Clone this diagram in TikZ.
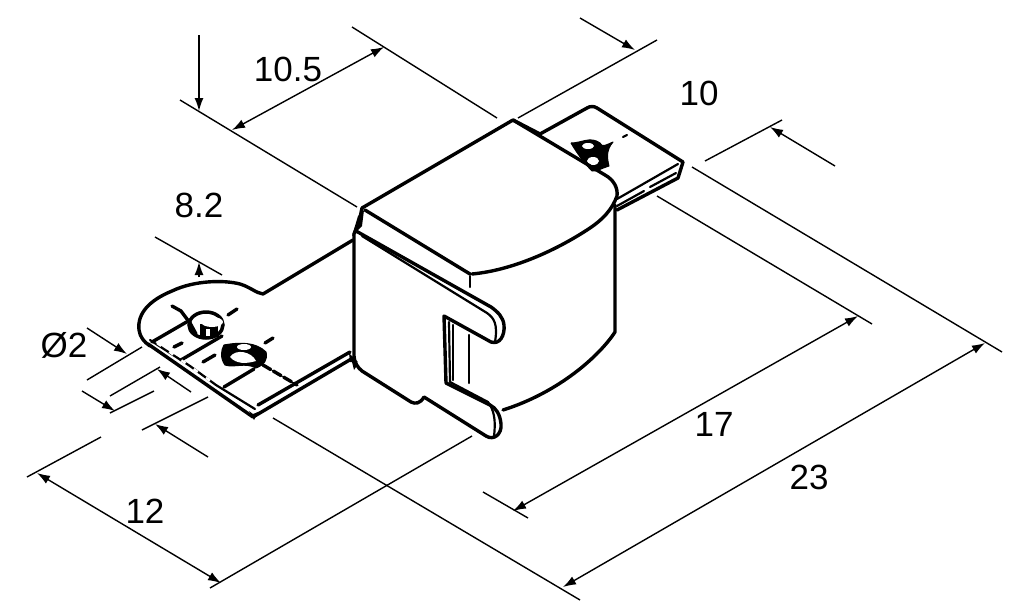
\documentclass[tikz,border=0pt]{standalone}
\usepackage{fontspec}
\setmainfont{Liberation Sans}
\usetikzlibrary{arrows.meta}
\tikzset{
  dim/.style={line width=1.4pt,black},
  arr/.style={line width=1.4pt,black,-{Latex[length=13pt,width=9pt]}},
  arrs/.style={line width=1.4pt,black,{Latex[length=13pt,width=9pt]}-{Latex[length=13pt,width=9pt]}},
  heavy/.style={line width=3.4pt,black,line join=round,line cap=round},
  mid/.style={line width=2.2pt,black,line join=round,line cap=round},
  lab/.style={font=\fontsize{35}{37}\selectfont,inner sep=0pt,text=black},
  blob/.style={fill=black,draw=black,line width=1pt,line join=round}
}
\begin{document}
\begin{tikzpicture}[x=1pt,y=-1pt]
\useasboundingbox (0,0) rectangle (1024,613);
\fill[white] (0,0) rectangle (1024,613);
% labels
\node[lab] (l105) at (288,69) {10.5};
\node[lab] (l10) at (699,93) {10};
\node[lab] (l82) at (199,205) {8.2};
\node[lab] (l02) at (64,345) {Ø2};
\node[lab] (l12) at (145,511) {12};
\node[lab] (l17) at (714,424) {17};
\node[lab] (l23) at (809,477) {23};
% dimension lines
\draw[dim] (180,100)--(357,207);
\draw[dim] (352,27)--(497,118);
\draw[arrs] (232,130)--(384,47);
\draw[arr] (199,35)--(199,111);
\draw[dim] (518,118)--(657,40);
\draw[arr] (580,18)--(635,50);
\draw[dim] (705,161)--(782,120);
\draw[arr] (835,166)--(770,127);
\draw[dim] (692,167)--(1002,352);
\draw[dim] (657,196)--(872,324);
\draw[dim] (483,492)--(528,518);
\draw[arrs] (513,511)--(858,316);
\draw[arrs] (563,587)--(985,343);
\draw[dim] (273,418)--(580,600);
\draw[arrs] (37,473)--(221,583);
\draw[dim] (27,477)--(101,437);
\draw[dim] (210,588)--(472,436);
\draw[dim] (155,237)--(222,275);
\draw[arr] (199,277)--(199,262);
\draw[arr] (87,328)--(127,354);
\draw[dim] (87,380)--(142,347);
\draw[dim] (110,396)--(160,367);
\draw[arr] (191,392)--(157,369);
\draw[arr] (82,391)--(115,411);
\draw[dim] (110,413)--(154,391);
\draw[dim] (142,430)--(208,397);
\draw[arr] (208,457)--(155,424);
% flat left tab
\draw[heavy] (353,240)--(263,294)
  .. controls (256,293) and (250,287) .. (240,284)
  .. controls (225,280) and (195,280) .. (172,291)
  .. controls (150,300) and (137,313) .. (139,330)
  .. controls (140,337) and (144,342) .. (150,346);
\draw[heavy] (148,344)--(253,417)--(353,358);
\draw[mid] (150,340)--(190,366)--(216,385)--(255,409);
\draw[heavy] (258,405)--(350,352);
\draw[heavy] (152,342)--(190,320);
\draw[heavy] (181,360)--(222,336);
\draw[heavy] (224,387)--(254,369);
\draw[heavy,dash pattern=on 9pt off 3pt] (263,365)--(297,385);
\draw[heavy] (228,315)--(237,309);
\draw[heavy] (203,362)--(215,355);
\draw[heavy] (174,347)--(182,343);
\draw[heavy] (172,306)--(181,311)--(190,323)--(196,334);
\draw[heavy] (265,343)--(273,338);
% holes on the left tab
\draw[line width=3.5pt,black] (206,325) ellipse (17pt and 13pt);
\fill[black] (200,324) rectangle (218,337);
\fill[white] (212,322) ellipse (11pt and 5pt);
\fill[white] (206,329) rectangle (210,336);
\draw[blob] (224,345) .. controls (240,342) and (256,342) .. (266,352)
  .. controls (268,360) and (264,365) .. (256,368)
  .. controls (245,362) and (235,368) .. (225,365)
  .. controls (220,358) and (221,350) .. (224,345);
\fill[white] (244,347) ellipse (7pt and 3pt);
\fill[white] (230,357) .. controls (236,348) and (252,352) .. (256,361)
  .. controls (246,364) and (236,364) .. (230,357);
% front bend dashes
\draw[line width=2.4pt,white,dash pattern=on 5pt off 10pt] (157,343)--(212,382);
% corner blobs
\fill[black] (249,411)--(253,414)--(258,412)--(254,420)--cycle;
\fill[black] (349,353)--(358,362)--(350,362)--cycle;
% back tab
\draw[heavy] (513,120)--(540,134)--(587,108)
  .. controls (590,106) and (594,106) .. (597,108)--(683,162)--(678,178)--(617,210);
\draw[mid] (678,164)--(617,199);
\draw[mid] (676,173)--(650,187);
\draw[mid] (644,191)--(617,206);
\draw[mid] (623,137)--(627,135);
\draw[blob] (571,143) .. controls (582,143) and (590,136) .. (600,143)
  .. controls (602,148) and (606,145) .. (613,142)
  .. controls (606,150) and (607,158) .. (609,166)
  .. controls (602,168) and (596,172) .. (592,171)
  .. controls (586,165) and (578,155) .. (571,143);
\fill[white] (588,146) ellipse (6pt and 3pt);
\fill[white] (593,161) ellipse (6pt and 4pt);
% body: right side
\draw[heavy] (615,205)--(615,332)
  .. controls (600,355) and (560,392) .. (503,410);
% top plate
\draw[heavy] (362,208)--(513,120)--(605,175)
  .. controls (614,180) and (618,188) .. (617,196)
  .. controls (612,210) and (602,220) .. (590,228)
  .. controls (560,248) and (515,270) .. (472,274);
\draw[heavy] (365,210)--(470,274);
\draw[mid] (470,276)--(470,287);
\draw[mid] (469,335)--(469,383);
% front plate
\draw[heavy] (362,208)--(359,222)--(354,234)--(354,356)
  .. controls (354,362) and (358,368) .. (362,371)
  --(411,402)
  .. controls (415,404) and (420,404) .. (424,397)
  --(486,436)
  .. controls (494,441) and (502,434) .. (501,424)
  .. controls (500,414) and (496,408) .. (490,405)
  --(446,383)--(444,316)--(491,342)
  .. controls (500,345) and (505,335) .. (504,325)
  .. controls (503,317) and (498,312) .. (491,307)
  --(356,231);
\draw[mid] (362,236)--(487,313)
  .. controls (494,318) and (498,324) .. (495,342);
\draw[mid] (449,322)--(450,382)--(488,402)
  .. controls (494,410) and (496,420) .. (494,436);
\draw[mid] (453,325)--(453,380);
\fill[black] (358,216)--(364,210)--(362,226)--(352,236)--cycle;
\fill[black] (354,370)--(351,358)--(358,364)--cycle;
\end{tikzpicture}
\end{document}
